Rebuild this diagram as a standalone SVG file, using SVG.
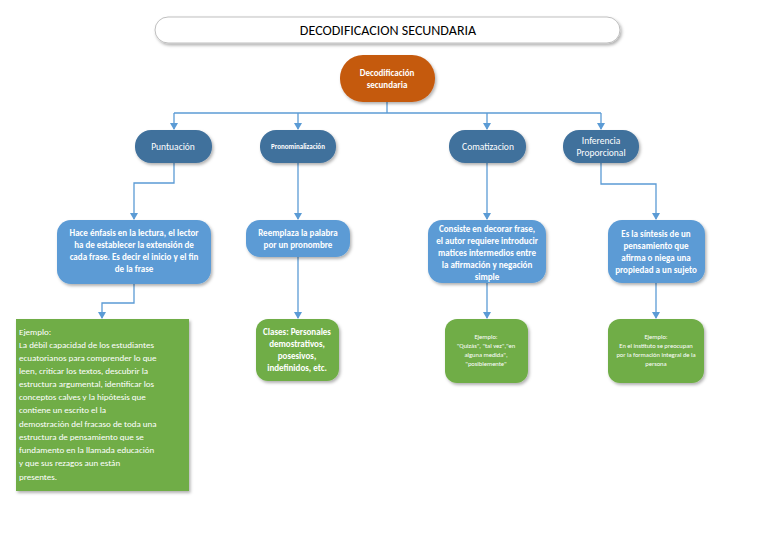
<svg xmlns="http://www.w3.org/2000/svg" width="768" height="543" viewBox="0 0 768 543">
<defs>
<marker id="ar" markerWidth="8" markerHeight="8" refX="6" refY="4" orient="auto" markerUnits="userSpaceOnUse"><path d="M0,0 L7,4 L0,8 z" fill="#5b9bd5"/></marker>
<filter id="sh" x="-10%" y="-10%" width="130%" height="130%"><feDropShadow dx="1.5" dy="2" stdDeviation="1.5" flood-color="#000" flood-opacity="0.3"/></filter>
</defs>
<style>
text{font-family:Calibri,"Liberation Sans",sans-serif;text-anchor:middle;fill:#fff}
.l1{fill:#41719c}
.l2{fill:#5b9bd5}
.g{fill:#70ad47}
.c{fill:none;stroke:#5b9bd5;stroke-width:1.3;marker-end:url(#ar)}
.b{font-size:9px;font-weight:bold}
.s{font-size:6.5px}
</style>
<rect width="768" height="543" fill="#fff"/>
<g id="title"><rect x="155" y="17" width="465" height="26" rx="13" fill="#fff" stroke="#bfbfbf" filter="url(#sh)"/><text x="388" y="35" style="font-size:14px;fill:#000">DECODIFICACION SECUNDARIA</text></g>
<g id="connectors">
<polyline points="387,102 387,113" fill="none" stroke="#5b9bd5" stroke-width="1.3"/>
<polyline points="174,113 601,113" fill="none" stroke="#5b9bd5" stroke-width="1.3"/>
<polyline class="c" points="174,113 174,129"/>
<polyline class="c" points="298,113 298,129"/>
<polyline class="c" points="487,113 487,129"/>
<polyline class="c" points="601,113 601,129"/>
<polyline class="c" points="174,163 174,183 134,183 134,219"/>
<polyline class="c" points="298,163 298,219"/>
<polyline class="c" points="487,163 487,219"/>
<polyline class="c" points="601,163 601,184 656,184 656,219"/>
<polyline class="c" points="134,284 134,303 102,303 102,318"/>
<polyline class="c" points="298,257 298,318"/>
<polyline class="c" points="487,283 487,318"/>
<polyline class="c" points="656,283 656,318"/>
</g>
<g id="root"><rect x="340" y="55" width="95" height="47" rx="23" fill="#c55a11" filter="url(#sh)"/><text x="387" y="76" class="b">Decodificación</text><text x="387" y="88" class="b">secundaria</text></g>
<g id="puntuacion"><rect class="l1" x="135" y="130" width="77" height="33" rx="16" filter="url(#sh)"/><text x="173" y="150" style="font-size:9.5px">Puntuación</text></g>
<g id="pronom"><rect class="l1" x="260" y="130" width="76" height="33" rx="16" filter="url(#sh)"/><text x="298" y="149" style="font-size:7px;font-weight:bold">Pronominalización</text></g>
<g id="comat"><rect class="l1" x="449" y="130" width="77" height="33" rx="16" filter="url(#sh)"/><text x="488" y="150" style="font-size:9.5px">Comatizacion</text></g>
<g id="inferencia"><rect class="l1" x="563" y="130" width="76" height="33" rx="16" filter="url(#sh)"/><text x="601" y="144" style="font-size:9.5px">Inferencia</text><text x="601" y="156" style="font-size:9.5px">Proporcional</text></g>
<g id="p2"><rect class="l2" x="57" y="220" width="154" height="64" rx="14" filter="url(#sh)"/>
<text class="b" x="134" y="236">Hace énfasis en la lectura, el lector</text><text class="b" x="134" y="248">ha de establecer la extensión de</text><text class="b" x="134" y="260">cada frase. Es decir el inicio y el fin</text><text class="b" x="134" y="272">de la frase</text></g>
<g id="pr2"><rect class="l2" x="246" y="220" width="104" height="37" rx="14" filter="url(#sh)"/><text class="b" x="298" y="236">Reemplaza la palabra</text><text class="b" x="298" y="248">por un pronombre</text></g>
<g id="c2"><rect class="l2" x="428" y="220" width="118" height="63" rx="14" filter="url(#sh)"/>
<text class="b" x="487" y="232">Consiste en decorar frase,</text><text class="b" x="487" y="244">el autor requiere introducir</text><text class="b" x="487" y="256">matices intermedios entre</text><text class="b" x="487" y="268">la afirmación y negación</text><text class="b" x="487" y="280">simple</text></g>
<g id="i2"><rect class="l2" x="608" y="220" width="97" height="63" rx="14" filter="url(#sh)"/>
<text class="b" x="656" y="237">Es la síntesis de un</text><text class="b" x="656" y="249">pensamiento que</text><text class="b" x="656" y="261">afirma o niega una</text><text class="b" x="656" y="273">propiedad a un sujeto</text></g>
<g id="p3"><rect class="g" x="16" y="319" width="173" height="172" filter="url(#sh)"/>
<g style="text-anchor:start;font-size:9px">
<text x="19" y="335" style="text-anchor:start">Ejemplo:</text>
<text x="19" y="348" style="text-anchor:start"> La débil capacidad de los estudiantes</text>
<text x="19" y="361" style="text-anchor:start">ecuatorianos para comprender lo que</text>
<text x="19" y="374" style="text-anchor:start">leen, criticar los textos, descubrir la</text>
<text x="19" y="387" style="text-anchor:start">estructura argumental, identificar los</text>
<text x="19" y="400" style="text-anchor:start">conceptos calves y la hipótesis que</text>
<text x="19" y="413" style="text-anchor:start">contiene un escrito el la</text>
<text x="19" y="427" style="text-anchor:start">demostración del fracaso de toda una</text>
<text x="19" y="440" style="text-anchor:start">estructura de pensamiento que se</text>
<text x="19" y="453" style="text-anchor:start">fundamento en la llamada educación</text>
<text x="19" y="466" style="text-anchor:start">y que sus rezagos aun están</text>
<text x="19" y="480" style="text-anchor:start">presentes.</text></g></g>
<g id="pr3"><rect class="g" x="256" y="319" width="83" height="62" rx="12" filter="url(#sh)"/>
<text class="b" x="297" y="335">Clases: Personales</text><text class="b" x="297" y="347">demostrativos,</text><text class="b" x="297" y="359">posesivos,</text><text class="b" x="297" y="371">indefinidos, etc.</text></g>
<g id="c3"><rect class="g" x="445" y="319" width="83" height="64" rx="12" filter="url(#sh)"/>
<text class="s" x="486" y="339">Ejemplo:</text><text class="s" x="486" y="348">"Quizás", "tal vez","en</text><text class="s" x="486" y="357">alguna medida",</text><text class="s" x="486" y="366">"posiblemente"</text></g>
<g id="i3"><rect class="g" x="608" y="319" width="96" height="64" rx="12" filter="url(#sh)"/>
<text class="s" x="656" y="339">Ejemplo:</text><text class="s" x="656" y="348">En el instituto se preocupan</text><text class="s" x="656" y="357">por la formación integral de la</text><text class="s" x="656" y="366">persona</text></g>
</svg>
